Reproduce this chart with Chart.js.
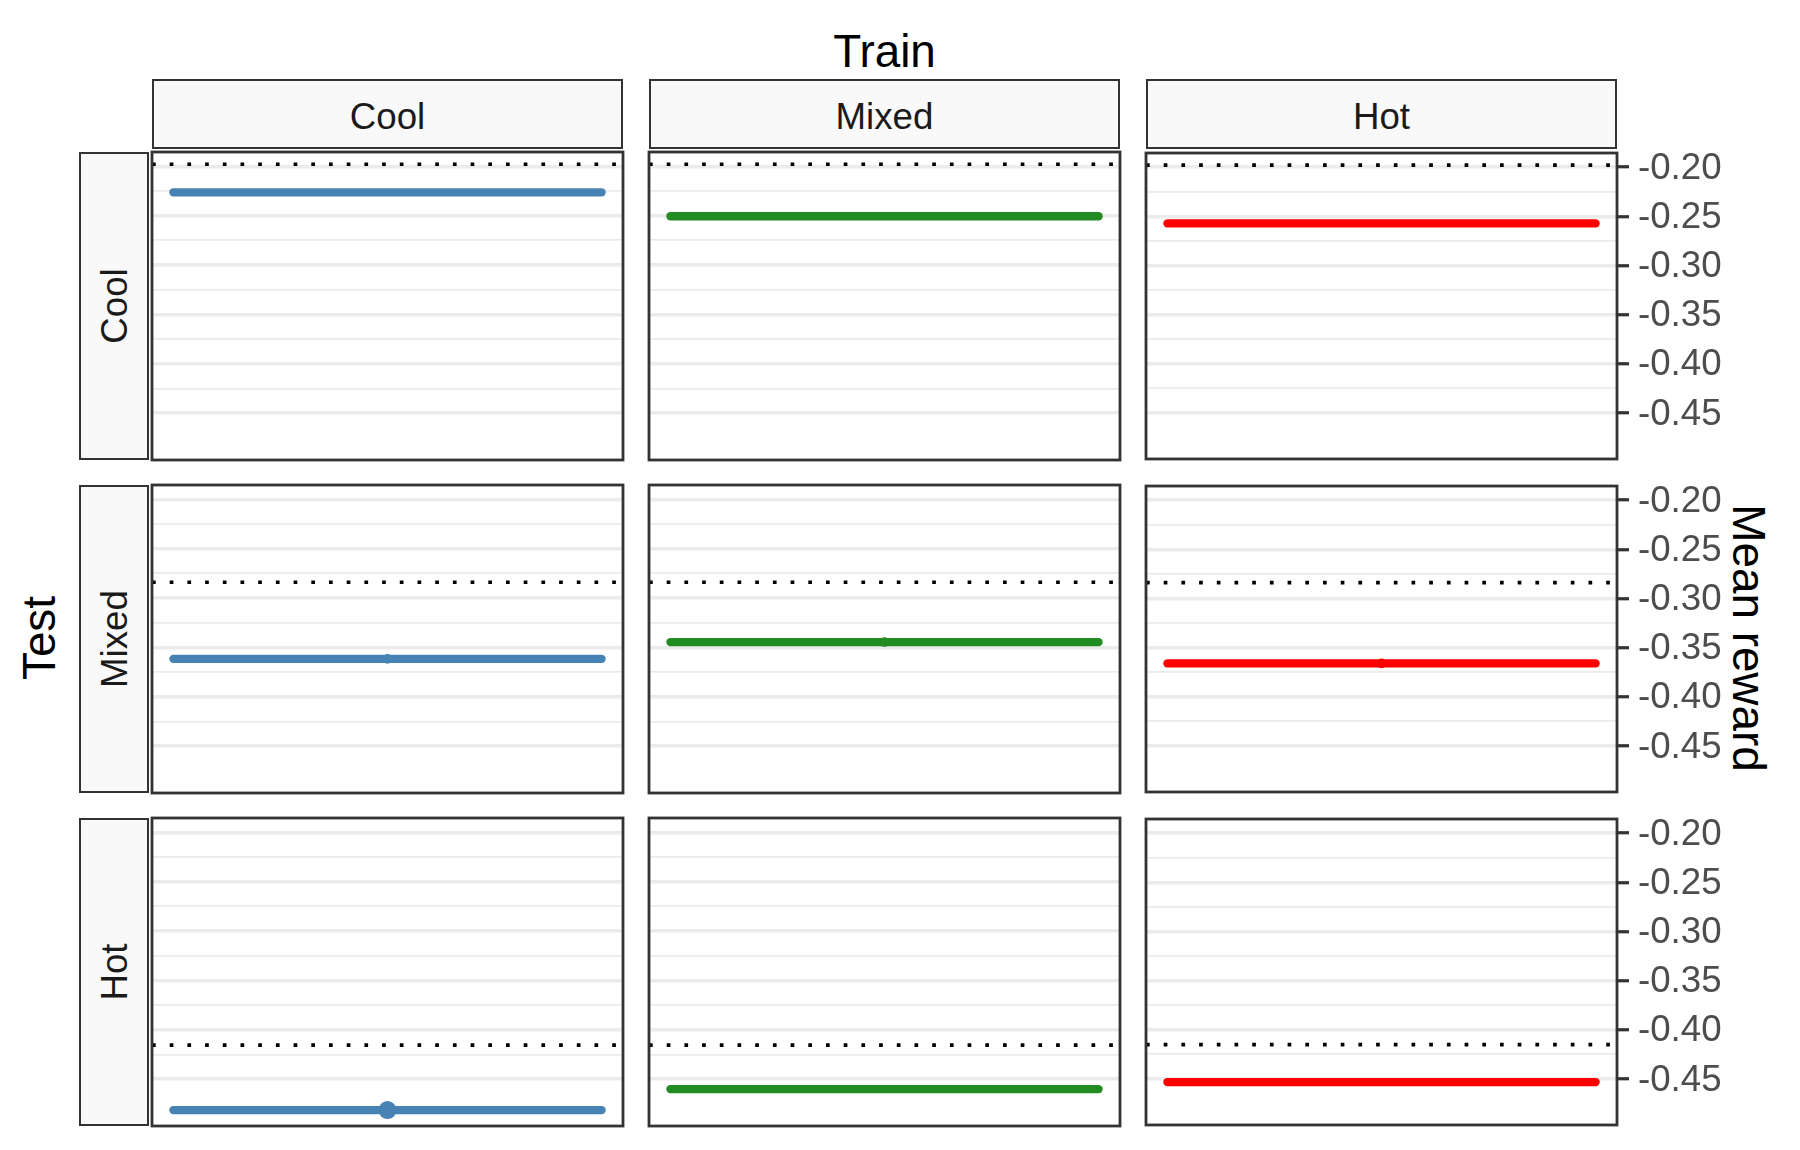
<!DOCTYPE html>
<html>
<head>
<meta charset="utf-8">
<script src="https://cdn.jsdelivr.net/npm/chart.js@4.4.0/dist/chart.umd.min.js"></script>
<style>
  body { margin: 0; background: #fff; }
  #wrap { position: relative; width: 1800px; height: 1150px; overflow: hidden; font-family: "Liberation Sans", Arial, sans-serif; }
  #wrap canvas { position: absolute; }
  .strip { position: absolute; box-sizing: border-box; background: #F9F9F9; border: 2.8px solid #333333; }
  .lbl { position: absolute; white-space: nowrap; line-height: 1; transform: translate(-50%, -50%); }
  .strip-txt { font-size: 36.7px; color: #1A1A1A; }
  .title { font-size: 45.8px; color: #000; }
</style>
</head>
<body>
<div id="wrap"></div>
<script>
const trainConds = ['Cool', 'Mixed', 'Hot'];
const testConds = ['Cool', 'Mixed', 'Hot'];
const trainColors = ['#4682B4', '#228B22', '#FF0000'];

// mean reward per test condition, ordered by train condition
const rewardTestCool = [-0.2263, -0.2506, -0.2573];
const rewardTestMixed = [-0.3616, -0.3446, -0.3664];
const rewardTestHot = [-0.4814, -0.4601, -0.4537];

// size of the marker in the middle of each run
const pointTestCool = [0, 0, 0];
const pointTestMixed = [4.8, 4.8, 4.8];
const pointTestHot = [9, 0, 0];

// dotted reference line for each test condition
const baselineReward = [-0.1979, -0.2840, -0.4155];

const runX = [0, 0.5, 1];
const yTicks = [-0.45, -0.40, -0.35, -0.30, -0.25, -0.20];
const yMinorTicks = [-0.425, -0.375, -0.325, -0.275, -0.225];
const yLimits = [-0.4975, -0.1855];
const xLimits = [-0.05, 1.05];

const rewards = [rewardTestCool, rewardTestMixed, rewardTestHot];
const pointSizes = [pointTestCool, pointTestMixed, pointTestHot];

// layout (px)
const panelLeft = [152, 649, 1146];
const panelTop = [152, 485, 818];
const panelW = 471, panelH = 308;
const M = 30, axisW = 140;
const FONT = "'Liberation Sans', Arial, sans-serif";

const wrap = document.getElementById('wrap');
const isMajor = v => yTicks.some(t => Math.abs(t - v) < 1e-9);

const panelBorder = {
  id: 'panelBorder',
  afterDraw(chart) {
    const { ctx, chartArea: a } = chart;
    ctx.save();
    ctx.strokeStyle = '#333333';
    ctx.lineWidth = 2.8;
    ctx.strokeRect(a.left, a.top, a.right - a.left, a.bottom - a.top);
    ctx.restore();
  }
};

function addLabel(text, x, y, cls, rot) {
  const d = document.createElement('div');
  d.className = 'lbl ' + cls;
  d.textContent = text;
  d.style.left = x + 'px';
  d.style.top = y + 'px';
  if (rot) d.style.transform = 'translate(-50%, -50%) rotate(' + rot + 'deg)';
  wrap.appendChild(d);
}

function addStrip(x, y, w, h) {
  const d = document.createElement('div');
  d.className = 'strip';
  d.style.left = x + 'px';
  d.style.top = y + 'px';
  d.style.width = w + 'px';
  d.style.height = h + 'px';
  wrap.appendChild(d);
}

// column strips (train)
trainConds.forEach((name, c) => {
  addStrip(panelLeft[c], 79, panelW, 70);
  addLabel(name, panelLeft[c] + panelW / 2, 116.5, 'strip-txt');
});
// row strips (test)
testConds.forEach((name, r) => {
  addStrip(79, panelTop[r], 70, panelH);
  addLabel(name, 115, panelTop[r] + panelH / 2, 'strip-txt', -90);
});

addLabel('Train', (panelLeft[0] + panelLeft[2] + panelW) / 2, 52, 'title');
addLabel('Test', 40, 638, 'title', -90);
addLabel('Mean reward', 1748, 638, 'title', 90);

for (let r = 0; r < 3; r++) {
  for (let c = 0; c < 3; c++) {
    const withAxis = c === 2;
    const canvas = document.createElement('canvas');
    canvas.width = panelW + 2 * M + (withAxis ? axisW - M : 0);
    canvas.height = panelH + 2 * M;
    canvas.style.left = (panelLeft[c] - M) + 'px';
    canvas.style.top = (panelTop[r] - M) + 'px';
    wrap.appendChild(canvas);

    const v = rewards[r][c];
    const ptR = pointSizes[r][c];
    const color = trainColors[c];

    new Chart(canvas, {
      type: 'line',
      data: {
        datasets: [
          {
            data: runX.map(x => ({ x: x, y: v })),
            borderColor: color,
            borderWidth: 8.3,
            borderCapStyle: 'round',
            pointRadius: ctx => (ctx.dataIndex === 1 ? ptR : 0),
            pointBackgroundColor: color,
            pointBorderWidth: 0,
            tension: 0
          },
          {
            data: xLimits.map(x => ({ x: x, y: baselineReward[r] })),
            borderColor: '#000000',
            borderWidth: 3.7,
            borderDash: [3.7, 14],
            borderCapStyle: 'butt',
            pointRadius: 0,
            tension: 0
          }
        ]
      },
      options: {
        responsive: false,
        animation: false,
        events: [],
        layout: { padding: { left: M, top: M, bottom: M, right: withAxis ? 0 : M } },
        plugins: { legend: { display: false }, tooltip: { enabled: false } },
        scales: {
          x: { type: 'linear', display: false, min: xLimits[0], max: xLimits[1] },
          y: {
            type: 'linear',
            position: 'right',
            min: yLimits[0],
            max: yLimits[1],
            afterBuildTicks: s => {
              s.ticks = yTicks.concat(yMinorTicks).sort((a, b) => a - b).map(t => ({ value: t }));
            },
            afterFit: s => { s.width = withAxis ? axisW : 0; },
            border: { display: false },
            grid: {
              color: '#EBEBEB',
              lineWidth: ctx => (isMajor(ctx.tick.value) ? 3.5 : 1.8),
              drawTicks: withAxis,
              tickLength: 12,
              tickWidth: 3.2,
              tickColor: ctx => (isMajor(ctx.tick.value) ? '#333333' : 'rgba(0,0,0,0)')
            },
            ticks: {
              display: withAxis,
              autoSkip: false,
              padding: 9,
              labelOffset: 2,
              color: '#4D4D4D',
              font: { family: FONT, size: 36.7 },
              callback: val => (isMajor(val) ? val.toFixed(2) : '')
            }
          }
        }
      },
      plugins: [panelBorder]
    });
  }
}
</script>
</body>
</html>
